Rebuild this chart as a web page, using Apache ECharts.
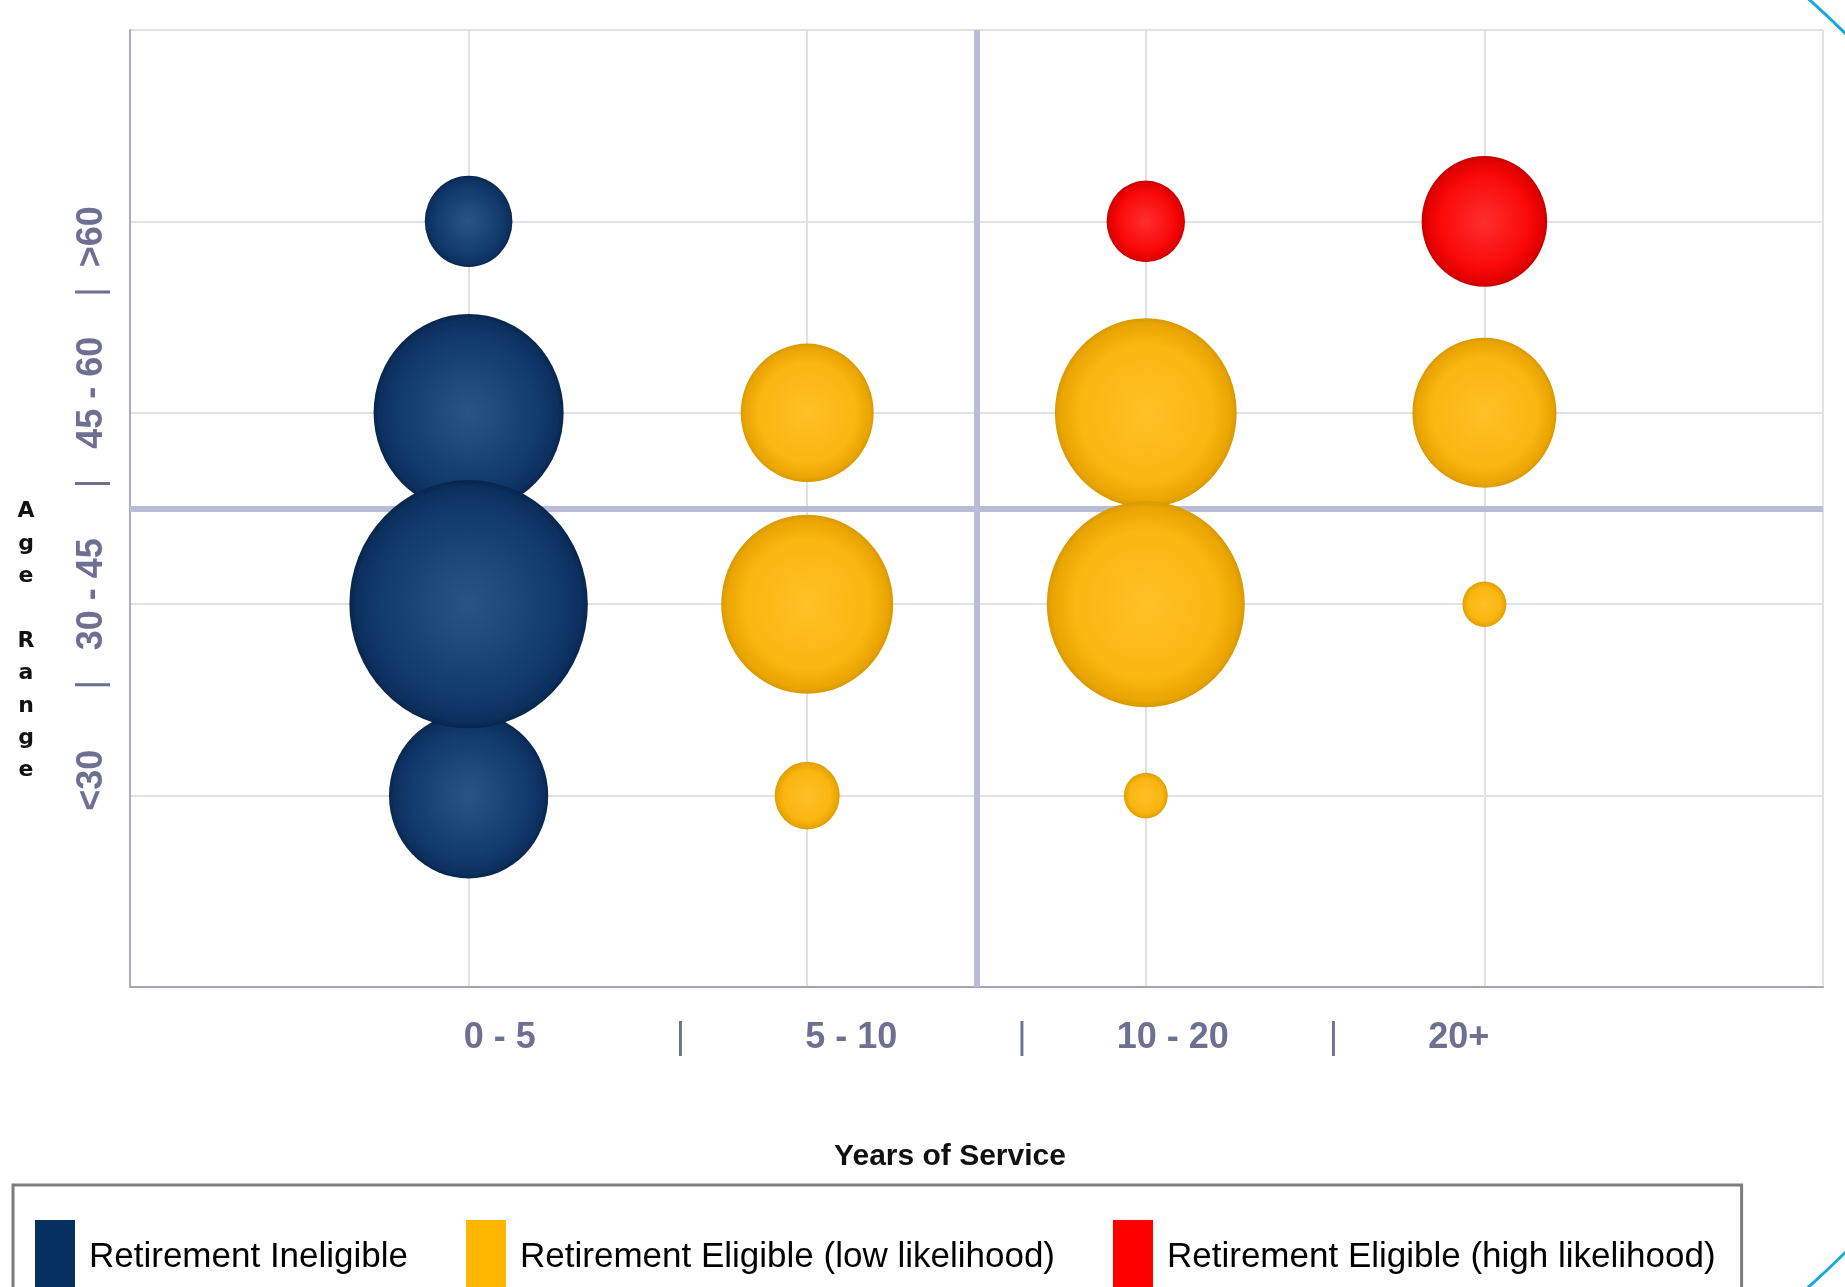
<!DOCTYPE html>
<html>
<head>
<meta charset="utf-8">
<title>Workforce by Years of Service and Age Range</title>
<script src="https://cdn.jsdelivr.net/npm/echarts@6/dist/echarts.min.js"></script>
<style>
  html, body { margin: 0; padding: 0; background: #ffffff; }
  #chart { width: 1845px; height: 1287px; }
</style>
</head>
<body>
<div id="chart"></div>
<script>
// Band labels on each axis
const serviceBands = ['0 - 5', '5 - 10', '10 - 20', '20+'];
const ageBands = ['<30', '30 - 45', '45 - 60', '>60'];

// Series names
const seriesNames = [
  'Retirement Ineligible',
  'Retirement Eligible (low likelihood)',
  'Retirement Eligible (high likelihood)'
];

// Headcount per cell: [years of service band, age band, headcount]
const ineligible = [
  ['0 - 5', '>60', 20],
  ['0 - 5', '45 - 60', 94],
  ['0 - 5', '<30', 66],
  ['0 - 5', '30 - 45', 148]
];
const eligibleLow = [
  ['5 - 10', '45 - 60', 46],
  ['5 - 10', '30 - 45', 77],
  ['5 - 10', '<30', 11],
  ['10 - 20', '45 - 60', 86],
  ['10 - 20', '30 - 45', 102],
  ['10 - 20', '<30', 5],
  ['20+', '45 - 60', 54],
  ['20+', '30 - 45', 5]
];
const eligibleHigh = [
  ['10 - 20', '>60', 16],
  ['20+', '>60', 41]
];

// Quadrant dividers sit halfway between the middle bands
const serviceDivider = 2.5;
const ageDivider = 2.5;

const chart = echarts.init(document.getElementById('chart'), null, { renderer: 'canvas' });

// Band n is plotted at position n + 1 on a 0..5 scale
function toPoints(rows) {
  return rows.map(r => [serviceBands.indexOf(r[0]) + 1, ageBands.indexOf(r[1]) + 1, r[2]]);
}

function bubbleSize(d) {
  const s = Math.sqrt(d[2]) * 20;
  return [s * 0.98, s * 1.02];
}

function sphere(inner, mid, edge, rim) {
  return new echarts.graphic.RadialGradient(0.5, 0.5, 0.5, [
    { offset: 0, color: inner },
    { offset: 0.72, color: mid },
    { offset: 0.94, color: edge },
    { offset: 1, color: rim }
  ]);
}

// Axis band captions are typed as one spaced-out line with thin separators
const sp = n => ' '.repeat(n);
const sep = '{s||}';
function bandCaption(bands, gaps) {
  let out = bands[0];
  for (let i = 1; i < bands.length; i++) {
    out += sp(gaps[2 * i - 2]) + sep + sp(gaps[2 * i - 1]) + bands[i];
  }
  return out;
}

const axisNameStyle = {
  fontFamily: '"Liberation Sans", Arial, sans-serif',
  fontWeight: 'bold',
  fontSize: 36,
  color: '#6d7092',
  rich: {
    s: {
      fontFamily: '"Liberation Sans", Arial, sans-serif',
      fontWeight: 'normal',
      fontSize: 36,
      color: '#6d7092'
    }
  }
};

const xName = bandCaption(serviceBands, [14, 12, 12, 9, 10, 9]);
const yName = bandCaption(ageBands, [6, 3, 5, 3, 4, 2]);

const option = {
  backgroundColor: '#ffffff',
  animation: false,
  grid: { left: 130, right: 22, top: 30, bottom: 300 },
  xAxis: {
    type: 'value',
    min: 0,
    max: 5,
    interval: 1,
    name: xName,
    nameLocation: 'middle',
    nameGap: 33,
    nameTextStyle: axisNameStyle,
    axisLine: { show: true, lineStyle: { color: '#a3a5bb', width: 2 } },
    axisTick: { show: false },
    axisLabel: { show: false },
    splitLine: { show: true, lineStyle: { color: '#e1e2e9', width: 2 } }
  },
  yAxis: {
    type: 'value',
    min: 0,
    max: 5,
    interval: 1,
    name: yName,
    nameLocation: 'middle',
    nameRotate: 90,
    nameGap: 20,
    nameTextStyle: axisNameStyle,
    axisLine: { show: true, lineStyle: { color: '#a9abc1', width: 2 } },
    axisTick: { show: false },
    axisLabel: { show: false },
    splitLine: { show: true, lineStyle: { color: '#e1e2e9', width: 2 } }
  },
  legend: {
    left: 13,
    top: 1185,
    orient: 'horizontal',
    padding: [35, 26, 30, 22],
    itemGap: 58,
    itemWidth: 40,
    itemHeight: 74,
    icon: 'rect',
    borderColor: '#7d7d7d',
    borderWidth: 3,
    textStyle: {
      fontFamily: '"Liberation Sans", Arial, sans-serif',
      fontSize: 35,
      color: '#000000',
      padding: [0, 0, 0, 9]
    },
    data: [
      { name: seriesNames[0], itemStyle: { color: '#06305f', opacity: 1 } },
      { name: seriesNames[1], itemStyle: { color: '#ffb600', opacity: 1 } },
      { name: seriesNames[2], itemStyle: { color: '#ff0000', opacity: 1 } }
    ]
  },
  graphic: [
    {
      type: 'text',
      x: 950,
      y: 1157,
      style: {
        text: 'Years of Service',
        fontFamily: '"Liberation Sans", Arial, sans-serif',
        fontWeight: 'bold',
        fontSize: 30,
        fill: '#111111',
        textAlign: 'center',
        textVerticalAlign: 'middle'
      }
    },
    {
      type: 'text',
      x: 26,
      y: 641,
      style: {
        text: 'Age Range'.split('').join('\n'),
        fontFamily: '"DejaVu Sans", sans-serif',
        fontWeight: 'bold',
        fontSize: 22,
        lineHeight: 32.4,
        fill: '#111111',
        textAlign: 'center',
        textVerticalAlign: 'middle'
      }
    },
    {
      type: 'arc',
      silent: true,
      shape: { cx: 1237, cy: 643, r: 861, startAngle: -0.95, endAngle: 0.95, clockwise: true },
      style: { stroke: '#19a8e0', lineWidth: 3, fill: null }
    }
  ],
  series: [
    {
      name: 'dividers',
      type: 'line',
      data: [],
      z: 1,
      silent: true,
      markLine: {
        z: 1,
        silent: true,
        symbol: ['none', 'none'],
        label: { show: false },
        lineStyle: { color: '#b8bcd6', width: 6, type: 'solid' },
        data: [{ xAxis: serviceDivider }, { yAxis: ageDivider }]
      }
    },
    {
      name: seriesNames[0],
      type: 'scatter',
      z: 3,
      data: toPoints(ineligible),
      symbolSize: bubbleSize,
      itemStyle: { opacity: 1, color: sphere('#2a5483', '#123c6d', '#0c3060', '#08264d') }
    },
    {
      name: seriesNames[1],
      type: 'scatter',
      z: 3,
      data: toPoints(eligibleLow),
      symbolSize: bubbleSize,
      itemStyle: { opacity: 1, color: sphere('#ffc126', '#fab611', '#eaa502', '#d99900') }
    },
    {
      name: seriesNames[2],
      type: 'scatter',
      z: 3,
      data: toPoints(eligibleHigh),
      symbolSize: bubbleSize,
      itemStyle: { opacity: 1, color: sphere('#ff2e2e', '#fa0808', '#e00000', '#c40000') }
    }
  ]
};

chart.setOption(option);
</script>
</body>
</html>
